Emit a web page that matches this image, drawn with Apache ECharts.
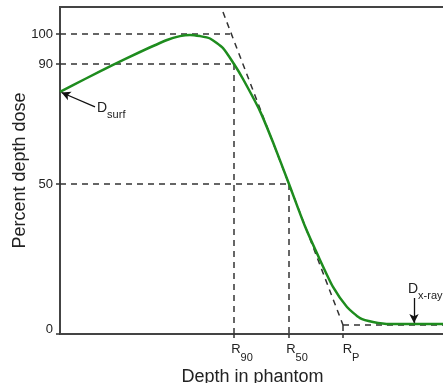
<!DOCTYPE html>
<html>
<head>
<meta charset="utf-8">
<script src="https://cdn.jsdelivr.net/npm/echarts@6/dist/echarts.min.js"></script>
<style>html,body{margin:0;padding:0;background:#fff}#c{width:443px;height:383px}</style>
</head>
<body>
<div id="c"></div>
<script>
// Depth-dose curve (depth in arbitrary units, dose in %)
const depth = [0, 2.5, 5.3, 8, 10.7, 12, 13, 14, 15, 16.3, 17.4, 18.3, 20, 21.3, 22.9, 24.5, 26, 27.3, 28.7, 30, 31.3, 33, 38.5];
const dose  = [80.7, 85, 89.7, 94, 98, 99.3, 99.7, 99.3, 98.5, 95.3, 90, 85, 74.3, 63.9, 50, 35.9, 24.7, 15.7, 9, 5.3, 4, 3.3, 3.3];

// characteristic depths
const R90 = 17.4, R50 = 22.9, RP = 28.3;
const xTickValues = [R90, R50, RP];
const xTickNames = ['90', '50', 'P'];
const yTickValues = [0, 50, 90, 100];
const xrayLevel = 3;

// tangent line at R50
const tangentX = [16.3, RP];
const tangentY = [107.3, xrayLevel];

// reference lines
const h100X = [0, 17.0], h100Y = [100, 100];
const h90X = [0, R90], h90Y = [90, 90];
const h50X = [0, R50], h50Y = [50, 50];
const v90X = [R90, R90], v90Y = [90, 0];
const v50X = [R50, R50], v50Y = [50, 0];
const vPX = [RP, RP], vPY = [xrayLevel, 0];
const tailX = [RP, 38.5], tailY = [xrayLevel, xrayLevel];

// annotation anchors
const surfArrowFrom = [3.5, 75.7], surfArrowTo = [0.15, 80.5];
const surfLabelAt = [3.7, 75.2];
const xrayArrowFrom = [35.4, 12], xrayArrowTo = [35.4, 3.7];
const xrayLabelAt = [34.8, 14.8];

const zip = (a, b) => a.map((v, i) => [v, b[i]]);
const dashStyle = { color: '#333', width: 1.5, type: [6, 5] };
function dashSeries(xs, ys) {
  return { type: 'line', data: zip(xs, ys), symbol: 'none', silent: true, lineStyle: dashStyle, z: 2 };
}
const font = 'Liberation Sans, Arial, Helvetica, sans-serif';

const chart = echarts.init(document.getElementById('c'), null, { renderer: 'canvas' });
chart.setOption({
  animation: false,
  backgroundColor: '#fff',
  textStyle: { fontFamily: font },
  grid: { left: 60, top: 7, right: -2, bottom: 49, show: true, borderColor: '#444', borderWidth: 2, outerBoundsMode: 'none', containLabel: false },
  xAxis: {
    type: 'value', min: 0, max: 38.5,
    name: 'Depth in phantom', nameLocation: 'middle', nameGap: 34, nameMoveOverlap: false,
    nameTextStyle: { fontSize: 18, color: '#222', fontFamily: font },
    axisLine: { show: true, lineStyle: { color: '#444', width: 2 } },
    axisTick: { show: true, customValues: xTickValues, length: 4, lineStyle: { color: '#333', width: 1.5 } },
    axisLabel: {
      show: true, customValues: xTickValues, margin: 9,
      formatter: function (v) {
        const i = xTickValues.findIndex(t => Math.abs(t - v) < 1e-6);
        return '{r|R}{s|' + (i >= 0 ? xTickNames[i] : '') + '}';
      },
      rich: {
        r: { fontSize: 13, lineHeight: 14, verticalAlign: 'top', padding: [0, 0, 0, 16], color: '#222', fontFamily: font },
        s: { fontSize: 11, lineHeight: 11, padding: [9, 0, 0, 0], verticalAlign: 'top', color: '#222', fontFamily: font }
      }
    },
    splitLine: { show: false }
  },
  yAxis: {
    type: 'value', min: 0, max: 109,
    name: 'Percent depth dose', nameLocation: 'middle', nameGap: 31, nameRotate: 90, nameMoveOverlap: false,
    nameTextStyle: { fontSize: 18, color: '#222', fontFamily: font },
    axisLine: { show: true, lineStyle: { color: '#444', width: 2 } },
    axisTick: { show: true, customValues: yTickValues, length: 4, lineStyle: { color: '#333', width: 1.5 } },
    axisLabel: {
      show: true, customValues: yTickValues, margin: 7, fontSize: 13, color: '#222', fontFamily: font,
      formatter: function (v) { return v === 0 ? '{z|0}' : String(v); },
      rich: { z: { fontSize: 13, padding: [0, 0, 10, 0], color: '#222', fontFamily: font } }
    },
    splitLine: { show: false }
  },
  series: [
    dashSeries(h100X, h100Y),
    dashSeries(h90X, h90Y),
    dashSeries(h50X, h50Y),
    dashSeries(v90X, v90Y),
    dashSeries(v50X, v50Y),
    dashSeries(vPX, vPY),
    dashSeries(tailX, tailY),
    dashSeries(tangentX, tangentY),
    {
      type: 'line', data: zip(depth, dose), symbol: 'none', smooth: 0.2,
      lineStyle: { color: '#1e8c1e', width: 2.5 }, z: 3, silent: true,
      markLine: {
        silent: true, symbol: ['none', 'arrow'], symbolSize: [7, 9],
        lineStyle: { color: '#111', width: 1.3, type: 'solid' },
        label: { show: false },
        data: [
          [{ coord: surfArrowFrom }, { coord: surfArrowTo }],
          [{ coord: xrayArrowFrom }, { coord: xrayArrowTo }]
        ]
      },
      markPoint: {
        silent: true, symbol: 'circle', symbolSize: 0,
        label: {
          show: true, position: 'right', distance: 0,
          rich: {
            d: { fontSize: 14, lineHeight: 14, verticalAlign: 'top', color: '#222', fontFamily: font },
            s: { fontSize: 11, lineHeight: 11, padding: [8, 0, 0, 0], verticalAlign: 'top', color: '#222', fontFamily: font }
          }
        },
        data: [
          { coord: surfLabelAt, label: { formatter: '{d|D}{s|surf}' } },
          { coord: xrayLabelAt, label: { formatter: '{d|D}{s|x-ray}' } }
        ]
      }
    }
  ]
});
</script>
</body>
</html>
